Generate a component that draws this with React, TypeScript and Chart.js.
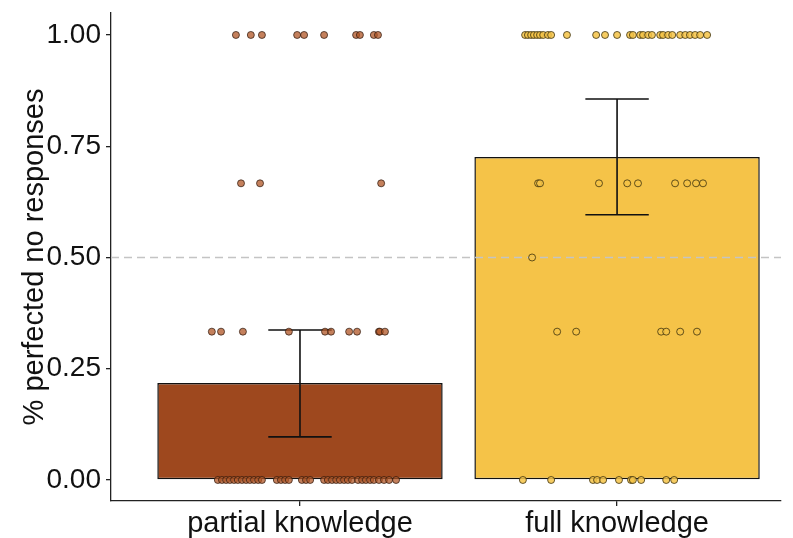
import React, { useEffect, useRef } from "react";
import { Chart, registerables } from "chart.js";

Chart.register(...registerables);

// Categories and bar values
const categories = ["partial knowledge", "full knowledge"];
const categoryPos = [1, 2];
const means = [0.218, 0.726];
const errLow = [0.097, 0.596];
const errHigh = [0.337, 0.856];
const yTicks = [0, 0.25, 0.5, 0.75, 1];
const refLine = 0.5;

// Jittered individual observations (x position on category axis) per response level
const partialAt1 = [0.798, 0.845, 0.880, 0.991, 1.013, 1.076, 1.177, 1.189, 1.233, 1.246];
const partialAt067 = [0.814, 0.874, 1.256];
const partialAt033 = [0.722, 0.751, 0.820, 0.965, 1.079, 1.098, 1.155, 1.180, 1.249, 1.252, 1.268];
const partialAt0 = [0.741, 0.754, 0.767, 0.779, 0.792, 0.804, 0.817, 0.830, 0.842, 0.855, 0.868, 0.880,
  0.927, 0.940, 0.953, 0.965, 1.006, 1.019, 1.032, 1.076, 1.088, 1.101, 1.114, 1.126, 1.139, 1.151, 1.164,
  1.183, 1.196, 1.208, 1.221, 1.233, 1.249, 1.265, 1.281, 1.303];

const fullAt1 = [1.710, 1.719, 1.729, 1.738, 1.748, 1.757, 1.767, 1.782, 1.792, 1.842, 1.934, 1.962, 2.000,
  2.041, 2.050, 2.073, 2.082, 2.098, 2.110, 2.136, 2.145, 2.161, 2.174, 2.199, 2.215, 2.230, 2.246, 2.262, 2.284];
const fullAt067 = [1.751, 1.757, 1.943, 2.032, 2.066, 2.183, 2.221, 2.249, 2.271];
const fullAt05 = [1.732];
const fullAt033 = [1.811, 1.871, 2.139, 2.155, 2.199, 2.252];
const fullAt0 = [1.703, 1.792, 1.924, 1.937, 1.956, 2.006, 2.044, 2.050, 2.076, 2.155, 2.180];

const barColors = ["#9e481e", "#f5c348"];
const pointFills = ["rgba(176,86,38,0.75)", "rgba(245,195,70,0.85)"];

const toPts = (xs: number[], y: number) => xs.map((x) => ({ x, y }));

const FONT = "'Liberation Sans', Arial, Helvetica, sans-serif";

export default function App() {
  const ref = useRef<HTMLCanvasElement | null>(null);

  useEffect(() => {
    if (!ref.current) return;

    const overlay = {
      id: "overlay",
      afterDatasetDraw(chart: any, args: any) {
        if (args.index !== 0) return;
        const ctx = chart.ctx;
        const xs = chart.scales.x;
        const ys = chart.scales.y;
        const area = chart.chartArea;
        ctx.save();
        // dashed reference line
        ctx.strokeStyle = "#c4c4c4";
        ctx.lineWidth = 1.5;
        ctx.setLineDash([8, 5]);
        const yr = ys.getPixelForValue(refLine);
        ctx.beginPath();
        ctx.moveTo(area.left, yr);
        ctx.lineTo(area.right, yr);
        ctx.stroke();
        ctx.setLineDash([]);
        // error bars
        ctx.strokeStyle = "#111";
        ctx.lineWidth = 1.6;
        for (let i = 0; i < categoryPos.length; i++) {
          const xc = xs.getPixelForValue(categoryPos[i]);
          const xl = xs.getPixelForValue(categoryPos[i] - 0.1);
          const xr = xs.getPixelForValue(categoryPos[i] + 0.1);
          const yl = ys.getPixelForValue(errLow[i]);
          const yh = ys.getPixelForValue(errHigh[i]);
          ctx.beginPath();
          ctx.moveTo(xc, yl);
          ctx.lineTo(xc, yh);
          ctx.moveTo(xl, yl);
          ctx.lineTo(xr, yl);
          ctx.moveTo(xl, yh);
          ctx.lineTo(xr, yh);
          ctx.stroke();
        }
        ctx.restore();
      },
    };

    const partialPts = [
      ...toPts(partialAt1, 1),
      ...toPts(partialAt067, 2 / 3),
      ...toPts(partialAt033, 1 / 3),
      ...toPts(partialAt0, 0),
    ];
    const fullPts = [
      ...toPts(fullAt1, 1),
      ...toPts(fullAt067, 2 / 3),
      ...toPts(fullAt05, 0.5),
      ...toPts(fullAt033, 1 / 3),
      ...toPts(fullAt0, 0),
    ];

    const chart = new Chart(ref.current, {
      type: "bar",
      data: {
        datasets: [
          {
            type: "bar",
            order: 3,
            data: categoryPos.map((x, i) => ({ x, y: means[i] })),
            backgroundColor: barColors,
            borderColor: "#111",
            borderWidth: 1.5,
            borderSkipped: false,
            categoryPercentage: 1,
            barPercentage: 0.9,
          } as any,
          {
            type: "scatter",
            order: 2,
            data: partialPts,
            backgroundColor: pointFills[0],
            borderColor: "rgba(40,20,10,0.7)",
            borderWidth: 1,
            pointRadius: 3.5,
          } as any,
          {
            type: "scatter",
            order: 1,
            data: fullPts,
            backgroundColor: pointFills[1],
            borderColor: "rgba(50,40,10,0.75)",
            borderWidth: 1,
            pointRadius: 3.5,
          } as any,
        ],
      },
      options: {
        responsive: false,
        animation: false,
        layout: { padding: { top: 13, right: 12, left: 0, bottom: 0 } },
        plugins: { legend: { display: false }, tooltip: { enabled: false } },
        scales: {
          x: {
            type: "linear",
            min: 0.404,
            max: 2.517,
            offset: false,
            afterBuildTicks: (s: any) => {
              s.ticks = categoryPos.map((v) => ({ value: v }));
            },
            afterFit: (s: any) => {
              s.height = 37;
              s.paddingLeft = 0;
              s.paddingRight = 0;
            },
            ticks: {
              color: "#111",
              font: { family: FONT, size: 29 },
              padding: 1,
              maxRotation: 0,
              autoSkip: false,
              callback: (v: any) => categories[categoryPos.indexOf(v)] ?? "",
            },
            grid: {
              display: true,
              offset: false,
              drawOnChartArea: false,
              drawTicks: true,
              tickLength: 5,
              color: "#222",
              lineWidth: 1.3,
            },
            border: { display: true, color: "#222", width: 1.3 },
          },
          y: {
            type: "linear",
            min: -0.0472,
            max: 1.0494,
            afterBuildTicks: (s: any) => {
              s.ticks = yTicks.map((v) => ({ value: v }));
            },
            afterFit: (s: any) => {
              s.width = 111;
              s.paddingTop = 0;
              s.paddingBottom = 0;
            },
            ticks: {
              color: "#111",
              font: { family: FONT, size: 28 },
              padding: 5,
              callback: (v: any) => Number(v).toFixed(2),
            },
            grid: {
              display: true,
              drawOnChartArea: false,
              drawTicks: true,
              tickLength: 5,
              color: "#222",
              lineWidth: 1.3,
            },
            border: { display: true, color: "#222", width: 1.3 },
            title: {
              display: true,
              text: "% perfected no responses",
              color: "#111",
              font: { family: FONT, size: 29 },
              padding: { top: 18, bottom: 0 },
            },
          },
        },
      },
      plugins: [overlay],
    } as any);

    return () => chart.destroy();
  }, []);

  return (
    <div style={{ position: "fixed", left: 0, top: 0, width: 793, height: 538, background: "#fff" }}>
      <canvas ref={ref} width={793} height={538} style={{ display: "block" }} />
    </div>
  );
}
